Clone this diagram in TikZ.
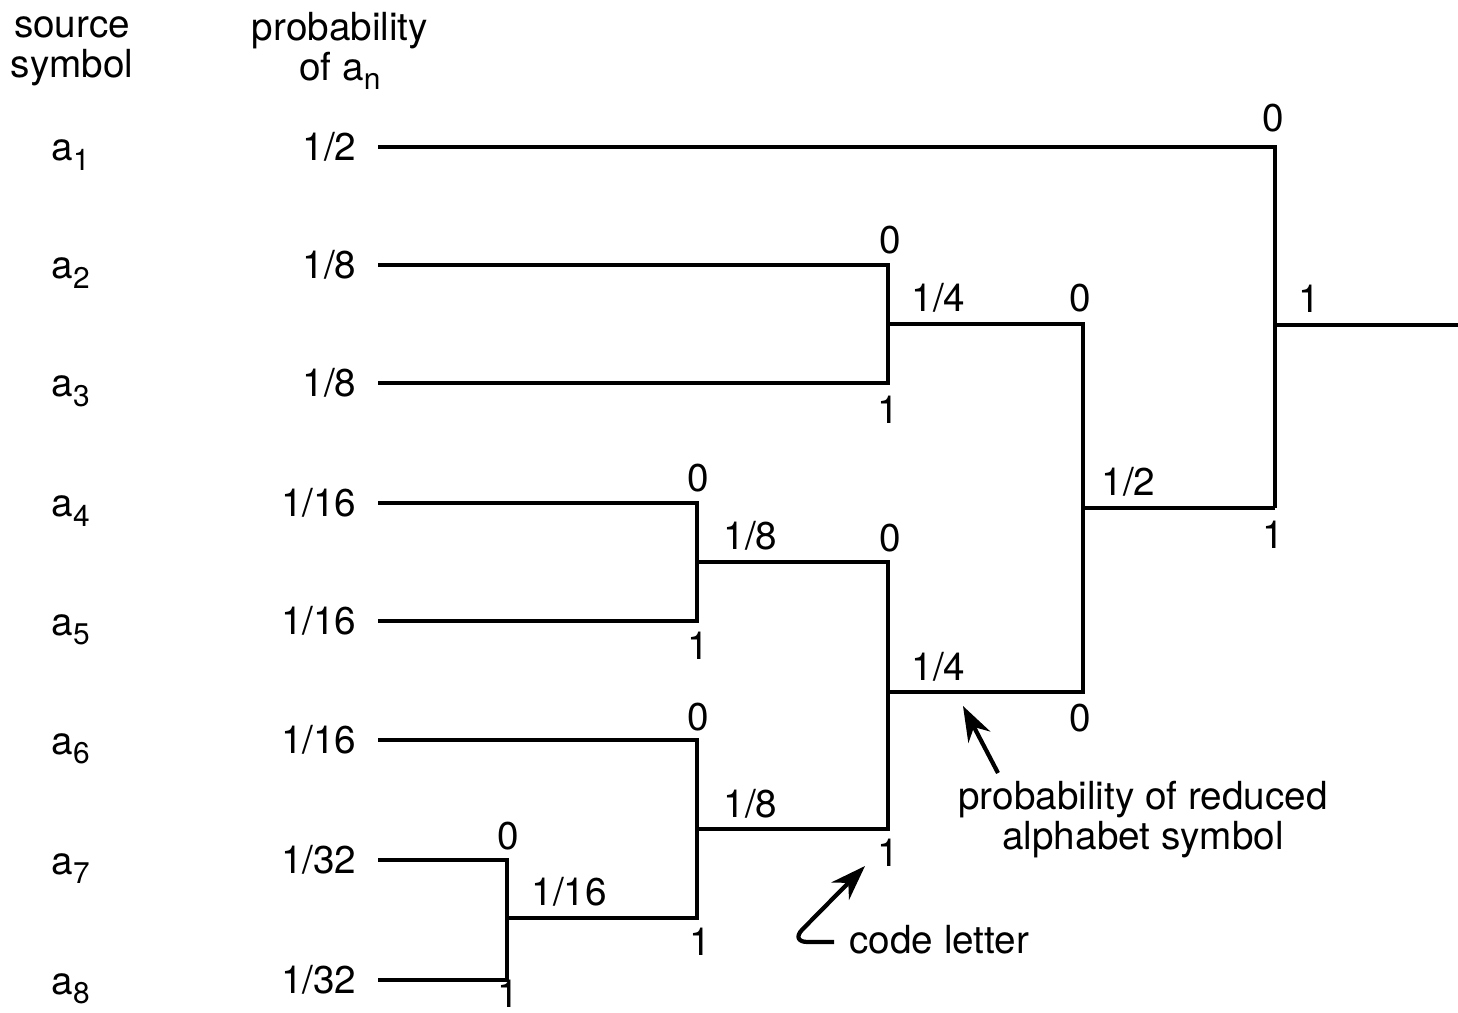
\documentclass[tikz,border=0pt]{standalone}
\usepackage{fontspec}
\setmainfont{TeX Gyre Heros}
\usetikzlibrary{arrows.meta}
\begin{document}
\begin{tikzpicture}[x=0.01cm,y=-0.01cm,line width=0.9pt,
  txt/.style={font=\fontsize{11}{11.4}\selectfont,inner sep=0pt},
  bit/.style={txt},
  prob/.style={txt,anchor=east},
  sym/.style={txt,anchor=base west},
  mid/.style={txt,anchor=base west},
  wire/.style={line width=0.95pt},
  pointer/.style={line width=1.2pt,-{Stealth[length=10pt,width=7pt]}}]
\useasboundingbox (0,0) rectangle (1458,1013);
\newcommand{\sub}[1]{\raisebox{-0.45ex}{\fontsize{8.5}{9}\selectfont #1}}
% headers
\node[txt,align=center] (h1) at (72,51) {source\\symbol};
\node[txt,align=center] (h2) at (340,51) {probability\\of a\sub{n}};
% source symbols
\foreach \i/\y in {1/147,2/265,3/383,4/503,5/621,6/740,7/860,8/980}{
  \node[sym] (a\i) at (50,\y+14) {a\sub{\i}};
  \coordinate (s\i) at (378,\y);
}
\node[prob] (p1) at (358,147) {1/2};
\node[prob] (p2) at (358,265) {1/8};
\node[prob] (p3) at (358,383) {1/8};
\node[prob] (p4) at (358,503) {1/16};
\node[prob] (p5) at (358,621) {1/16};
\node[prob] (p6) at (358,740) {1/16};
\node[prob] (p7) at (358,860) {1/32};
\node[prob] (p8) at (358,980) {1/32};
% junction coordinates
\coordinate (v23t) at (888,265); \coordinate (v23b) at (888,383); \coordinate (m23) at (888,324);
\coordinate (v45t) at (697,503); \coordinate (v45b) at (697,621); \coordinate (m45) at (697,562);
\coordinate (v78t) at (507,860); \coordinate (v78b) at (507,980); \coordinate (m78) at (507,918);
\coordinate (v6t) at (697,740); \coordinate (v6b) at (697,918); \coordinate (m6) at (697,829);
\coordinate (v48t) at (888,562); \coordinate (v48b) at (888,829); \coordinate (m48) at (888,692);
\coordinate (v28t) at (1083,324); \coordinate (v28b) at (1083,692); \coordinate (m28) at (1083,508);
\coordinate (vat) at (1275,147); \coordinate (vab) at (1275,508); \coordinate (ma) at (1275,325);
\coordinate (out) at (1458,325);
% wires
\draw[wire] (s1) -- (vat) -- (vab);
\draw[wire] (s2) -- (v23t) -- (v23b) -- (s3);
\draw[wire] (s4) -- (v45t) -- (v45b) -- (s5);
\draw[wire] (s7) -- (v78t) -- (v78b) -- (s8);
\draw[wire] (s6) -- (v6t) -- (v6b) -- (m78);
\draw[wire] (m45) -- (v48t) -- (v48b) -- (m6);
\draw[wire] (m23) -- (v28t) -- (v28b) -- (m48);
\draw[wire] (m28) -- (vab);
\draw[wire] (ma) -- (out);
% code letters
\node[bit] (b1) at (1273,118) {0};
\node[bit] (b2) at (1273,535) {1};
\node[bit] (b3) at (890,240) {0};
\node[bit] (b4) at (888,410) {1};
\node[bit] (b5) at (1080,298) {0};
\node[bit] (b6) at (1080,718) {0};
\node[bit] (b7) at (698,478) {0};
\node[bit] (b8) at (698,646) {1};
\node[bit] (b9) at (890,538) {0};
\node[bit] (b10) at (888,853) {1};
\node[bit] (b11) at (698,717) {0};
\node[bit] (b12) at (700,942) {1};
\node[bit] (b13) at (508,836) {0};
\node[bit] (b14) at (508,994) {1};
% reduced probabilities
\node[mid] (r1) at (910,312) {1/4};
\node[mid] (r2) at (1100,496) {1/2};
\node[mid] (r3) at (722,550) {1/8};
\node[mid] (r4) at (910,680) {1/4};
\node[mid] (r5) at (722,817) {1/8};
\node[mid] (r6) at (530,905) {1/16};
\node[mid] (r7) at (1297,313) {1};
% annotations
\node[txt,align=center] (ann1) at (1143,820) {probability of reduced\\alphabet symbol};
\node[txt,anchor=west] (ann2) at (848,940) {code letter};
\coordinate (t1) at (998,773); \coordinate (h1t) at (963,706);
\draw[pointer] (t1) -- (h1t);
\coordinate (t2) at (834,942); \coordinate (k2) at (790,942); \coordinate (h2t) at (865,866);
\draw[pointer,rounded corners=5pt] (t2) -- (k2) -- (h2t);
\end{tikzpicture}
\end{document}
